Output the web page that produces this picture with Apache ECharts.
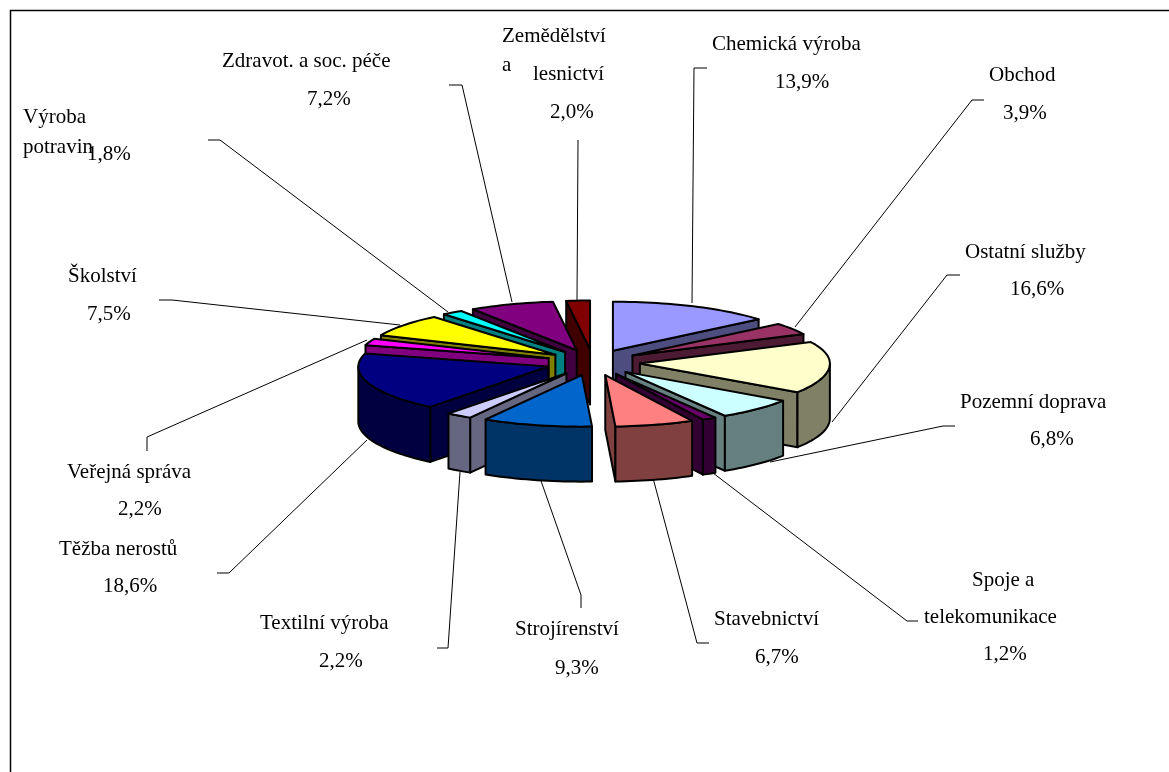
<!DOCTYPE html>
<html><head><meta charset="utf-8">
<style>html,body{margin:0;padding:0;background:#fff}#c{width:1169px;height:772px}</style>
<script src="https://cdn.jsdelivr.net/npm/echarts@6/dist/echarts.min.js"></script>
</head><body><div id="c"></div>
<script>
// ---- data, clockwise from 12 o'clock ----
const categories = ['Chemická výroba','Obchod','Ostatní služby','Pozemní doprava','Spoje a telekomunikace','Stavebnictví','Strojírenství','Textilní výroba','Těžba nerostů','Veřejná správa','Školství','Výroba potravin','Zdravot. a soc. péče','Zemědělství a lesnictví'];
const shares = [13.9,3.9,16.6,6.8,1.2,6.7,9.3,2.2,18.6,2.2,7.5,1.8,7.2,2.0];
const topColors = ['#9999FF','#993366','#FFFFCC','#CCFFFF','#660066','#FF8080','#0066CC','#CCCCFF','#000080','#FF00FF','#FFFF00','#00FFFF','#800080','#800000'];
const sideColors = ['#4D4D80','#4D1A33','#808066','#668080','#330033','#804040','#003366','#666680','#000040','#800080','#808000','#008080','#400040','#400000'];

// ---- layout (not data) ----
const pie = {cx:593, cy:362.5, rx:190, ryBack:49, ryFront:51.5, depth:55, ex:47, ey:13};
const font = '21px "Liberation Serif"';
const textNudgeY = 1;
// per category: text pieces [string, left x, middle y]; '%' marks the value
const labelLayout = [
  [['Chemická výroba',712,43],['%',775,81]],
  [['Obchod',989,74],['%',1003,112]],
  [['Ostatní služby',965,251],['%',1010,288]],
  [['Pozemní doprava',960,401],['%',1030,438]],
  [['Spoje a',972,579],['telekomunikace',924,616],['%',983,653]],
  [['Stavebnictví',714,618],['%',755,656]],
  [['Strojírenství',515,628],['%',555,667]],
  [['Textilní výroba',260,622],['%',319,660]],
  [['Těžba nerostů',59,548],['%',103,585]],
  [['Veřejná správa',67,471],['%',118,508]],
  [['Školství',68,275],['%',87,313]],
  [['Výroba',23,116],['potravin',23,146],['%',87,153]],
  [['Zdravot. a soc. péče',222,60],['%',307,98]],
  [['Zemědělství',502,35],['a',502,64],['lesnictví',533,73],['%',550,111]]
];
const leaderLayout = [
  [[707,68],[694,68],[692,303]],
  [[984,100],[972,100],[795,327]],
  [[960,275],[947,275],[832,422]],
  [[955,426],[943,426],[770,462]],
  [[918,621],[907,621],[713,473]],
  [[709,643],[697,643],[653,478]],
  [[581,608],[581,595],[540,478]],
  [[437,648],[448,648],[460,472]],
  [[217,573],[229,573],[367,440]],
  [[147,451],[147,437],[367,340]],
  [[159,300],[172,300],[400,325]],
  [[208,140],[220,140],[448,312]],
  [[449,85],[462,85],[512,302]],
  [[578,140],[577,300]]
];

// ---- geometry, derived from the shares ----
const total = shares.reduce((a,b)=>a+b,0);
const spans = []; { let acc=0; shares.forEach(v=>{const a0=acc/total*2*Math.PI; acc+=v; spans.push([a0,acc/total*2*Math.PI]);}); }
function apex(i){const m=(spans[i][0]+spans[i][1])/2; return [pie.cx+pie.ex*Math.sin(m), pie.cy-pie.ey*Math.cos(m)];}
function rim(c,a){const k=Math.cos(a); return [c[0]+pie.rx*Math.sin(a), c[1]-(k>0?pie.ryBack:pie.ryFront)*k];}
const down=p=>[p[0],p[1]+pie.depth];
// back-to-front paint order
const paintOrder = shares.map((_,i)=>i).sort((a,b)=>apex(a)[1]-apex(b)[1]);

function poly(points,fill){
  return {type:'polygon',shape:{points},style:{fill,stroke:'#000',lineWidth:2,lineJoin:'round'}};
}
function renderSlice(params,api){
  const i=api.value(0), [a0,a1]=spans[i], c=apex(i), side=sideColors[i], kids=[];
  const s0=rim(c,a0), s1=rim(c,a1);
  if(Math.sin(a0)<0) kids.push(poly([c,s0,down(s0),down(c)],side));
  if(Math.sin(a1)>0) kids.push(poly([c,s1,down(s1),down(c)],side));
  const f0=Math.max(a0,Math.PI/2), f1=Math.min(a1,1.5*Math.PI);
  if(f1>f0){
    const arc=[]; const n=Math.max(2,Math.ceil((f1-f0)/0.03));
    for(let k=0;k<=n;k++) arc.push(rim(c,f0+(f1-f0)*k/n));
    kids.push(poly(arc.concat(arc.slice().reverse().map(down)),side));
  }
  const top=[c]; const n=Math.max(2,Math.ceil((a1-a0)/0.03));
  for(let k=0;k<=n;k++) top.push(rim(c,a0+(a1-a0)*k/n));
  kids.push(poly(top,topColors[i]));
  return {type:'group',children:kids};
}
function renderLeader(params,api){
  return {type:'polyline',shape:{points:leaderLayout[api.value(0)]},style:{fill:null,stroke:'#000',lineWidth:1}};
}
function renderLabel(params,api){
  const i=api.value(0), pct=shares[i].toFixed(1).replace('.',',')+'%';
  return {type:'group',children:labelLayout[i].map(t=>({type:'text',style:{text:t[0]==='%'?pct:t[0],x:t[1],y:t[2]+textNudgeY,font,fill:'#000',align:'left',verticalAlign:'middle'}}))};
}
function renderFrame(){
  return {type:'polyline',shape:{points:[[10.5,772],[10.5,10.5],[1169,10.5]]},style:{fill:null,stroke:'#000',lineWidth:1.5}};
}
const idx=categories.map((_,i)=>[i]);
const chart=echarts.init(document.getElementById('c'),null,{renderer:'canvas'});
chart.setOption({
  animation:false,backgroundColor:'#fff',tooltip:{show:false},
  series:[
    {type:'custom',coordinateSystem:'none',z:1,silent:true,renderItem:renderFrame,data:[[0]]},
    {type:'custom',coordinateSystem:'none',z:2,silent:true,renderItem:renderLeader,data:idx},
    {type:'custom',coordinateSystem:'none',z:3,silent:true,renderItem:renderSlice,data:paintOrder.map(i=>[i])},
    {type:'custom',coordinateSystem:'none',z:4,silent:true,renderItem:renderLabel,data:idx}
  ]
});
</script></body></html>
